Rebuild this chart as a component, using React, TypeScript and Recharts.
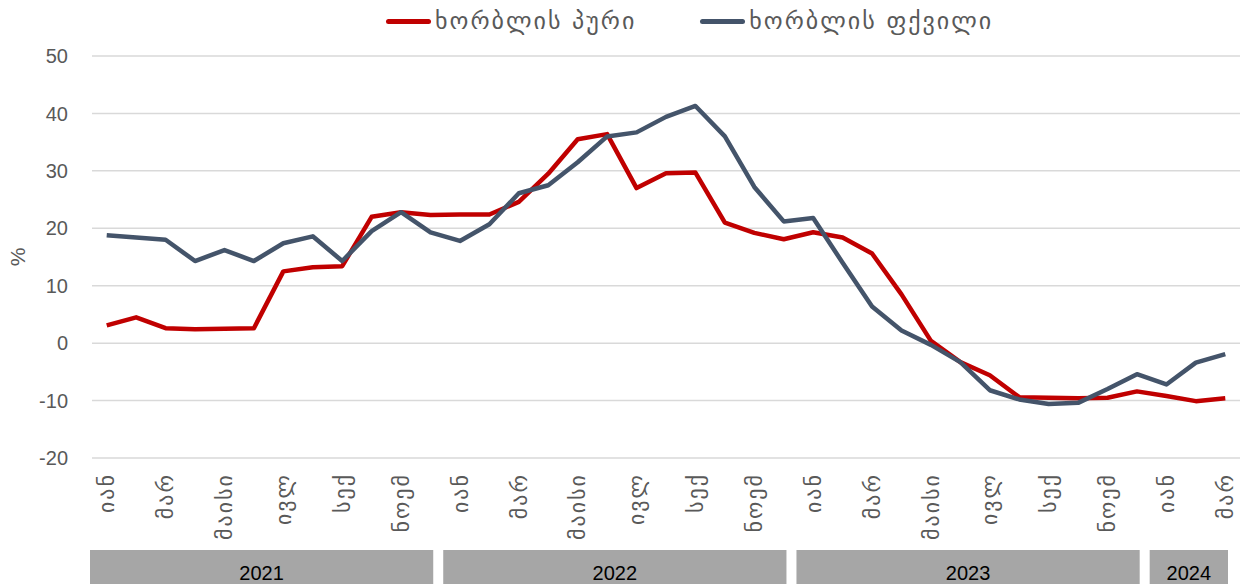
import { LineChart, Line, XAxis, YAxis, CartesianGrid, Legend } from "recharts"

// monthly periods, Jan 2021 .. Mar 2024
const periods = [
  "2021-01", "2021-02", "2021-03", "2021-04", "2021-05", "2021-06",
  "2021-07", "2021-08", "2021-09", "2021-10", "2021-11", "2021-12",
  "2022-01", "2022-02", "2022-03", "2022-04", "2022-05", "2022-06",
  "2022-07", "2022-08", "2022-09", "2022-10", "2022-11", "2022-12",
  "2023-01", "2023-02", "2023-03", "2023-04", "2023-05", "2023-06",
  "2023-07", "2023-08", "2023-09", "2023-10", "2023-11", "2023-12",
  "2024-01", "2024-02", "2024-03",
]

const bread = [
  3.1, 4.5, 2.6, 2.4, 2.5, 2.6, 12.5, 13.2, 13.4, 22.0, 22.8, 22.3,
  22.4, 22.4, 24.6, 29.5, 35.5, 36.4, 27.0, 29.6, 29.7, 21.0, 19.2, 18.1,
  19.3, 18.4, 15.6, 8.5, 0.4, -3.3, -5.6, -9.4, -9.5, -9.6, -9.5, -8.4,
  -9.2, -10.1, -9.6,
]

const flour = [
  18.8, 18.4, 18.0, 14.3, 16.2, 14.3, 17.4, 18.6, 14.3, 19.5, 22.8, 19.3,
  17.8, 20.7, 26.1, 27.5, 31.5, 36.0, 36.7, 39.4, 41.3, 36.0, 27.2, 21.2,
  21.8, 14.0, 6.4, 2.2, -0.3, -3.3, -8.2, -9.8, -10.6, -10.4, -8.0, -5.4,
  -7.2, -3.4, -1.9,
]

const seriesNames = ["ხორბლის პური", "ხორბლის ფქვილი"]
const seriesColors = ["#c00000", "#44546a"]

const monthLabels: Record<string, string> = {
  "01": "იან",
  "03": "მარ",
  "05": "მაისი",
  "07": "ივლ",
  "09": "სექ",
  "11": "ნოემ",
}
const yearTicks = ["2021-01", "2022-01", "2023-01", "2024-01"]
const yTicks = [-20, -10, 0, 10, 20, 30, 40, 50]

const chartData = periods.map((p, i) => ({ period: p, bread: bread[i], flour: flour[i] }))

const W = 1244
const H = 587
const margin = { top: 26, right: 4, bottom: 0, left: 0 }
const Y_AXIS_W = 92
const step = (W - margin.left - margin.right - Y_AXIS_W) / periods.length

const GEO_FONT = "'DejaVu Sans', sans-serif"
const NUM_FONT = "'Liberation Sans', Arial, sans-serif"

function MonthTick({ x, y, payload }: any) {
  const label = monthLabels[String(payload.value).slice(5)] ?? ""
  return (
    <g transform={`translate(${x},${y})`}>
      <text
        x={-7}
        dy="0.35em"
        transform="rotate(-90)"
        textAnchor="end"
        fill="#595959"
        fontSize={22}
        letterSpacing={2}
        fontFamily={GEO_FONT}
      >
        {label}
      </text>
    </g>
  )
}

function YearTick({ x, y, payload }: any) {
  const year = String(payload.value).slice(0, 4)
  const count = periods.filter((p) => p.startsWith(year)).length
  const left = x - step / 2 - 2
  const w = count * step - 10
  return (
    <g>
      <rect x={left} y={y} width={w} height={34} fill="#a6a6a6" />
      <text x={left + w / 2} y={y + 30} textAnchor="middle" fontSize={20} fill="#000" fontFamily={NUM_FONT}>
        {year}
      </text>
    </g>
  )
}

function PercentLabel({ viewBox }: any) {
  const cx = viewBox.x + 18
  const cy = viewBox.y + viewBox.height / 2
  return (
    <text
      x={cx}
      y={cy}
      dy="0.35em"
      textAnchor="middle"
      transform={`rotate(-90, ${cx}, ${cy})`}
      fill="#595959"
      fontSize={21}
      fontFamily={NUM_FONT}
    >
      %
    </text>
  )
}

function LegendContent() {
  return (
    <div style={{ display: "flex", alignItems: "center", height: 30, fontFamily: GEO_FONT, fontSize: 24, letterSpacing: 2, color: "#595959" }}>
      {seriesNames.map((name, i) => (
        <div key={name} style={{ display: "flex", alignItems: "center", marginRight: i === 0 ? 64 : 0 }}>
          <span style={{ display: "inline-block", width: 45, height: 5, borderRadius: 3, background: seriesColors[i], marginRight: 4 }} />
          <span>{name}</span>
        </div>
      ))}
    </div>
  )
}

export default function App() {
  return (
    <div style={{ position: "absolute", left: 0, top: 0, background: "#fff" }}>
      <LineChart width={W} height={H} data={chartData} margin={margin}>
        <CartesianGrid vertical={false} stroke="#d9d9d9" strokeWidth={1.5} />
        <Legend
          verticalAlign="top"
          align="left"
          content={LegendContent}
          wrapperStyle={{ left: 386, top: 6, width: "auto" }}
        />
        <XAxis
          dataKey="period"
          scale="band"
          interval={1}
          height={88}
          axisLine={false}
          tickLine={false}
          tick={<MonthTick />}
        />
        <XAxis
          xAxisId="year"
          dataKey="period"
          scale="band"
          ticks={yearTicks}
          interval={0}
          height={41}
          axisLine={false}
          tickLine={false}
          tickSize={0}
          tickMargin={4}
          tick={<YearTick />}
        />
        <YAxis
          width={Y_AXIS_W}
          domain={[-20, 50]}
          ticks={yTicks}
          axisLine={false}
          tickLine={false}
          tickMargin={18}
          tick={{ fill: "#595959", fontSize: 20, fontFamily: NUM_FONT }}
          label={<PercentLabel />}
        />
        <Line
          type="linear"
          dataKey="bread"
          name={seriesNames[0]}
          stroke={seriesColors[0]}
          strokeWidth={4.5}
          strokeLinejoin="round"
          dot={false}
          isAnimationActive={false}
        />
        <Line
          type="linear"
          dataKey="flour"
          name={seriesNames[1]}
          stroke={seriesColors[1]}
          strokeWidth={4.5}
          strokeLinejoin="round"
          dot={false}
          isAnimationActive={false}
        />
      </LineChart>
    </div>
  )
}
